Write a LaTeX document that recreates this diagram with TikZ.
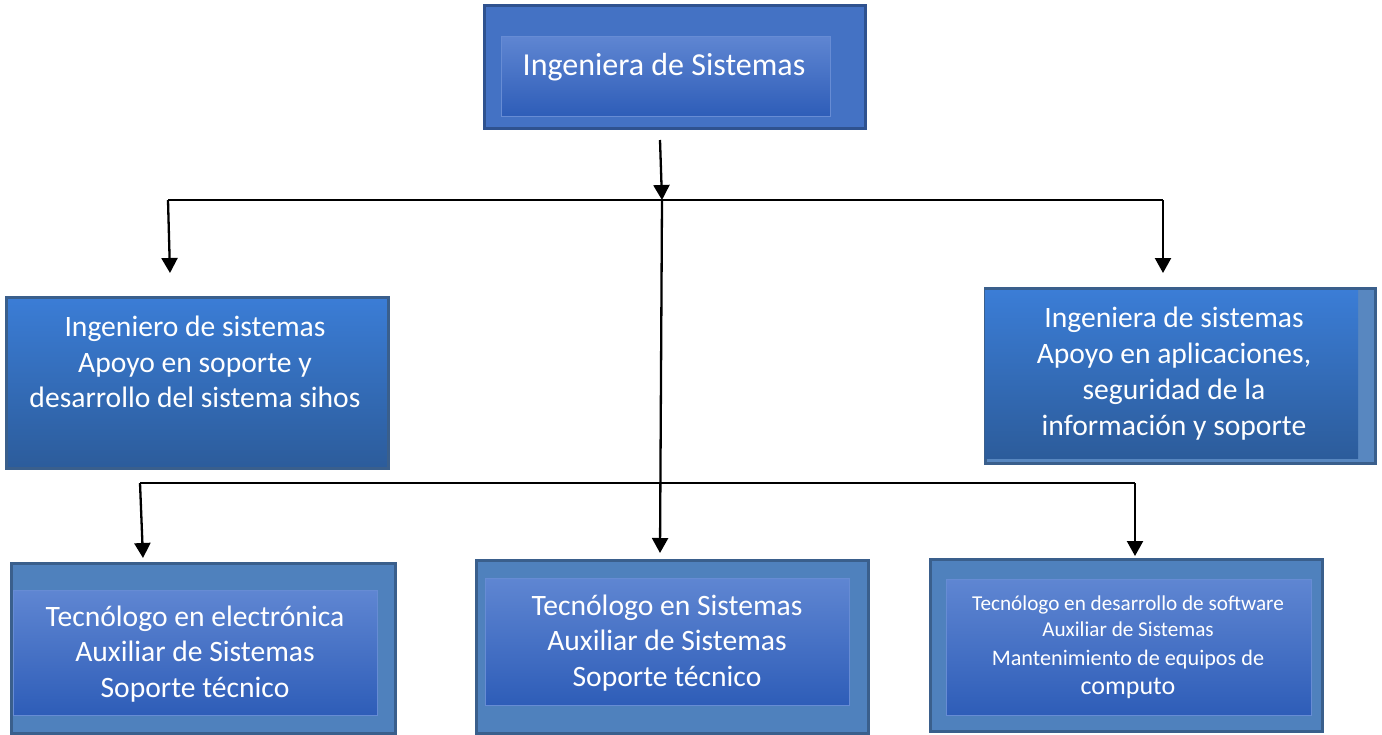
\documentclass[tikz,border=0pt]{standalone}
\usepackage{fontspec}
\setmainfont{Carlito}
\usetikzlibrary{arrows.meta}

\definecolor{azulcaja}{HTML}{4472C4}
\definecolor{azulborde}{HTML}{2F528F}
\definecolor{aceroborde}{HTML}{3A5F8C}
\definecolor{acero}{HTML}{4F81BD}
\definecolor{panelarriba}{HTML}{5F86D2}
\definecolor{panelabajo}{HTML}{2E5DB8}
\definecolor{cargoarriba}{HTML}{3B7DD6}
\definecolor{cargoabajo}{HTML}{2C5C9B}

\begin{document}
\begin{tikzpicture}[x=0.5pt,y=-0.5pt,
    caja/.style={draw=aceroborde, line width=1.5pt, fill=acero, rectangle, inner sep=0pt},
    panel/.style={rectangle, inner sep=0pt, top color=panelarriba, bottom color=panelabajo, draw=panelarriba!95!white, line width=0.3pt},
    cargo/.style={draw=aceroborde, line width=1.5pt, rectangle, inner sep=0pt, top color=cargoarriba, bottom color=cargoabajo},
    texto/.style={text=white, align=center, font=\fontsize{14.8}{17.75}\selectfont},
    linea/.style={line width=0.65pt},
    flecha/.style={line width=1.15pt, -{Triangle[width=8pt,length=7.5pt]}}]
        \useasboundingbox (0,0) rectangle (1382,734);

        \node[caja, draw=azulborde, fill=azulcaja, minimum width=190.5pt, minimum height=61.5pt] (jefe) at (674.5,66.5) {};
        \node[panel, minimum width=164.5pt, minimum height=40pt] (jefepanel) at (665.5,76) {};
        \node[texto, font=\fontsize{16}{18}\selectfont] (jefetexto) at (664,67) {Ingeniera de Sistemas};

        \node[cargo, minimum width=191pt, minimum height=85.5pt] (soporte) at (197,382.5) {};
        \node[texto] (soportetexto) at (195,362) {Ingeniero de sistemas\\Apoyo en soporte y\\desarrollo del sistema sihos};

        \node[caja, fill=acero!95!white, minimum width=195pt, minimum height=87.5pt] (aplic) at (1180,375.5) {};
        \node[rectangle, inner sep=0pt, top color=cargoarriba, bottom color=cargoabajo, minimum width=186.5pt, minimum height=84pt] (aplicpanel) at (1171.5,374) {};
        \node[texto, font=\fontsize{14.8}{18}\selectfont] (aplictexto) at (1174,374) {Ingeniera de sistemas\\Apoyo en aplicaciones,\\seguridad de la\\informaci\'on y soporte};

        \node[caja, minimum width=192pt, minimum height=85pt] (electro) at (203,648) {};
        \node[panel, minimum width=182pt, minimum height=62.5pt] (electropanel) at (195,652.5) {};
        \node[texto] (electrotexto) at (195,654) {Tecn\'ologo en electr\'onica\\Auxiliar de Sistemas\\Soporte t\'ecnico};

        \node[caja, minimum width=196pt, minimum height=86.5pt] (sistemas) at (672,646.5) {};
        \node[panel, minimum width=182pt, minimum height=63.5pt] (sistemaspanel) at (667,641.5) {};
        \node[texto] (sistemastexto) at (667,643) {Tecn\'ologo en Sistemas\\Auxiliar de Sistemas\\Soporte t\'ecnico};

        \node[caja, minimum width=196pt, minimum height=86pt] (software) at (1126,645) {};
        \node[panel, minimum width=182.5pt, minimum height=68pt] (softwarepanel) at (1128.5,647) {};
        \node[texto, font=\fontsize{10.6}{13}\selectfont] (softwaretexto) at (1128,647) {Tecn\'ologo en desarrollo de software\\Auxiliar de Sistemas\\[1.5pt]{\fontsize{11.1}{14}\selectfont Mantenimiento de equipos de}\\[1.5pt]{\fontsize{13}{15}\selectfont computo}};

        \coordinate (salida) at (660,140);
        \coordinate (nivel1izq) at (168,200);
        \coordinate (nivel1centro) at (662,200);
        \coordinate (nivel1der) at (1163,200);
        \coordinate (llegaizq) at (170,273);
        \coordinate (llegader) at (1163,273);
        \coordinate (llegacentro) at (660,553);
        \coordinate (nivel2izq) at (140,483);
        \coordinate (nivel2der) at (1135,483);
        \coordinate (llegaelectro) at (143,558);
        \coordinate (llegasoftware) at (1135,556);

        \draw[linea] (nivel1izq) -- (nivel1der);
        \draw[linea] (nivel2izq) -- (nivel2der);
        \draw[flecha] (salida) -- (nivel1centro);
        \draw[flecha] (nivel1izq) -- (llegaizq);
        \draw[flecha] (nivel1der) -- (llegader);
        \draw[flecha] (nivel1centro) -- (llegacentro);
        \draw[flecha] (nivel2izq) -- (llegaelectro);
        \draw[flecha] (nivel2der) -- (llegasoftware);
    \end{tikzpicture}
\end{document}
